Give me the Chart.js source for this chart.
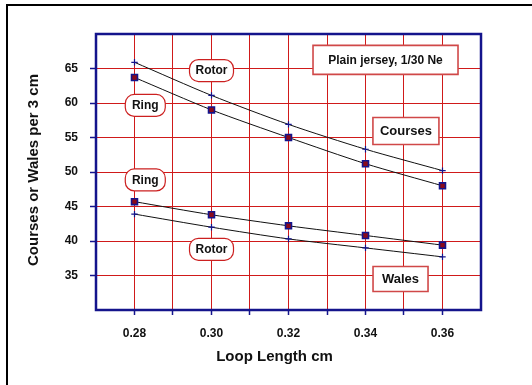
<!DOCTYPE html>
<html>
<head>
<meta charset="utf-8">
<script src="https://cdn.jsdelivr.net/npm/chart.js@4/dist/chart.umd.min.js"></script>
<style>
  html, body { margin: 0; padding: 0; background: #fff; }
  #wrap { position: relative; width: 532px; height: 385px; overflow: hidden; }
  #frame { position: absolute; left: 6px; top: 4px; width: 600px; height: 500px; border: 2px solid #000; box-sizing: border-box; }
  canvas { position: absolute; left: 0; top: 0; }
</style>
</head>
<body>
<div id="wrap">
  <div id="frame"></div>
  <canvas id="c" width="532" height="385"></canvas>
</div>
<script>
// ---- data ----
const loopLength = [0.28, 0.30, 0.32, 0.34, 0.36];
const coursesRotor = [65.9, 61.1, 56.9, 53.3, 50.2];
const coursesRing  = [63.7, 59.0, 55.0, 51.2, 48.0];
const walesRing    = [45.7, 43.8, 42.2, 40.8, 39.4];
const walesRotor   = [43.9, 42.0, 40.3, 39.0, 37.7];

const xGridTicks  = [0.28, 0.29, 0.30, 0.31, 0.32, 0.33, 0.34, 0.35, 0.36];
const xTickLabels = ['0.28', '', '0.30', '', '0.32', '', '0.34', '', '0.36'];
const yTicks      = [35, 40, 45, 50, 55, 60, 65];
const yTickLabels = ['35', '40', '45', '50', '55', '60', '65'];

const xTitle = 'Loop Length cm';
const yTitle = 'Courses or Wales per 3 cm';

// labels: text, data position, shape
const noteText  = ['Rotor', 'Ring', 'Ring', 'Rotor', 'Plain jersey, 1/30 Ne', 'Courses', 'Wales'];
const noteX     = [0.300, 0.2828, 0.2828, 0.300, 0.3452, 0.3505, 0.3491];
const noteY     = [64.7, 59.65, 48.85, 38.8, 66.25, 55.95, 34.5];
const noteRound = [true, true, true, true, false, false, false];

// ---- styles ----
const FONT = "'Liberation Sans', Arial, Helvetica, sans-serif";
const NAVY = '#14148c';
const GRID = '#d01a1a';
const noteW = [44, 40, 40, 44, 145, 66, 55];
const noteH = [22, 22, 22, 22, 29, 27, 25];
const noteSize = [12, 12, 12, 12, 12, 13, 13];

function series(data, isSquare) {
  return {
    data: loopLength.map((x, i) => ({x: x, y: data[i]})),
    borderColor: '#111',
    borderWidth: 1,
    tension: 0.25,
    pointStyle: isSquare ? 'rect' : 'cross',
    pointRadius: isSquare ? 4.2 : 3.2,
    pointBackgroundColor: isSquare ? '#8a0a1a' : NAVY,
    pointBorderColor: NAVY,
    pointBorderWidth: isSquare ? 1.6 : 1.2,
    fill: false
  };
}

function roundRect(ctx, x, y, w, h, r) {
  ctx.beginPath();
  ctx.moveTo(x + r, y);
  ctx.lineTo(x + w - r, y);
  ctx.arcTo(x + w, y, x + w, y + r, r);
  ctx.lineTo(x + w, y + h - r);
  ctx.arcTo(x + w, y + h, x + w - r, y + h, r);
  ctx.lineTo(x + r, y + h);
  ctx.arcTo(x, y + h, x, y + h - r, r);
  ctx.lineTo(x, y + r);
  ctx.arcTo(x, y, x + r, y, r);
  ctx.closePath();
}

const extras = {
  id: 'extras',
  afterDatasetsDraw(chart) {
    const ctx = chart.ctx;
    const a = chart.chartArea;
    const xs = chart.scales.x, ys = chart.scales.y;
    ctx.save();
    // plot border
    ctx.strokeStyle = NAVY;
    ctx.lineWidth = 2.5;
    ctx.strokeRect(a.left, a.top, a.right - a.left, a.bottom - a.top);
    // notes
    for (let i = 0; i < noteText.length; i++) {
      const cx = xs.getPixelForValue(noteX[i]);
      const cy = ys.getPixelForValue(noteY[i]);
      const w = noteW[i], h = noteH[i];
      const x0 = cx - w / 2, y0 = cy - h / 2;
      ctx.fillStyle = '#fff';
      ctx.strokeStyle = noteRound[i] ? '#cc2020' : '#d04848';
      ctx.lineWidth = noteRound[i] ? 1.2 : 1.6;
      if (noteRound[i]) {
        roundRect(ctx, x0, y0, w, h, 9);
      } else {
        ctx.beginPath();
        ctx.rect(x0, y0, w, h);
      }
      ctx.fill();
      ctx.stroke();
      ctx.fillStyle = '#111';
      ctx.font = 'bold ' + noteSize[i] + 'px ' + FONT;
      ctx.textAlign = 'center';
      ctx.textBaseline = 'middle';
      ctx.fillText(noteText[i], cx, cy + 0.5);
    }
    // axis titles
    ctx.fillStyle = '#111';
    ctx.font = 'bold 15px ' + FONT;
    ctx.textAlign = 'center';
    ctx.textBaseline = 'middle';
    ctx.fillText(xTitle, 274.5, 357);
    ctx.translate(33.5, 170);
    ctx.rotate(-Math.PI / 2);
    ctx.fillText(yTitle, 0, 0);
    ctx.restore();
  }
};

new Chart(document.getElementById('c'), {
  type: 'line',
  data: {
    datasets: [
      series(coursesRotor, false),
      series(coursesRing, true),
      series(walesRing, true),
      series(walesRotor, false)
    ]
  },
  options: {
    responsive: false,
    animation: false,
    events: [],
    layout: { padding: { top: 34, right: 51, left: 0, bottom: 0 } },
    plugins: { legend: { display: false }, tooltip: { enabled: false } },
    scales: {
      x: {
        type: 'linear',
        min: 0.27, max: 0.37,
        afterFit(s) { s.height = 75; },
        afterBuildTicks(s) { s.ticks = xGridTicks.map(v => ({value: v})); },
        border: { display: false },
        grid: { color: GRID, lineWidth: 1, tickLength: 5, tickColor: NAVY, tickWidth: 1.5 },
        ticks: {
          autoSkip: false, maxRotation: 0, padding: 11,
          color: '#111',
          font: { family: FONT, size: 12, weight: 'bold' },
          callback: (v, i) => xTickLabels[i]
        }
      },
      y: {
        type: 'linear',
        min: 30, max: 70,
        afterFit(s) { s.width = 96; },
        afterBuildTicks(s) { s.ticks = yTicks.map(v => ({value: v})); },
        border: { display: false },
        grid: { color: GRID, lineWidth: 1, tickLength: 6, tickColor: NAVY, tickWidth: 1.5 },
        ticks: {
          padding: 12,
          color: '#111',
          font: { family: FONT, size: 12, weight: 'bold' },
          callback: (v, i) => yTickLabels[i]
        }
      }
    }
  },
  plugins: [extras]
});
</script>
</body>
</html>
